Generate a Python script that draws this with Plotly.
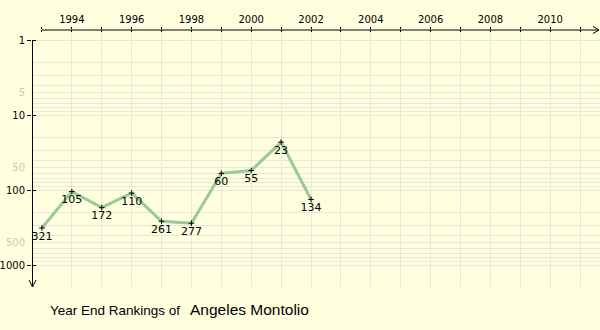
import plotly.graph_objects as go

years = [1993, 1994, 1995, 1996, 1997, 1998, 1999, 2000, 2001, 2002]
ranks = [321, 105, 172, 110, 261, 277, 60, 55, 23, 134]
rank_labels = [str(r) for r in ranks]

year_ticks = list(range(1993, 2012))
year_labels = [str(y) if y % 2 == 0 else "" for y in year_ticks]
grid_years = list(range(1994, 2012))

grid_vals = [m * 10 ** e for e in range(0, 3) for m in range(1, 10)] + [1000]
minor_labels = {5: "5", 50: "50", 500: "500"}
major_vals = [1, 10, 100, 1000]
major_labels = ["1", "10", "100", "1000"]

player = "Angeles Montolio"

W, H = 600, 330
L, R, T, B = 30, 0, 30, 43
PW, PH = W - L - R, H - T - B

BG = "#FFFFE0"
GRID = "#E6E6DA"
FONT = "DejaVu Sans"

def px(xp):
    return (xp - L) / PW

def py(yp):
    return (H - B - yp) / PH

# axis ranges derived from layout: 1993 at x=40, 30px/year; rank 1 at y=40, 75px/decade
x_range = [1993 - 10 / 30, 1993 + (PW - 10) / 30]
y_range = [(H - B - 40) / 75, (T - 40) / 75]

fig = go.Figure()
fig.add_trace(go.Scatter(
    x=years, y=ranks, mode="lines+markers+text",
    text=rank_labels, textposition="bottom center",
    textfont=dict(family=FONT, size=11, color="black"),
    line=dict(color="#99C899", width=3),
    marker=dict(symbol="cross-thin", size=4, color="black",
                line=dict(color="black", width=1)),
    hoverinfo="skip", showlegend=False, cliponaxis=False,
))
# helper traces so overlaying axes render
for xa, ya in [("x2", "y"), ("x3", "y"), ("x", "y2"), ("x", "y3")]:
    fig.add_trace(go.Scatter(x=years, y=ranks, xaxis=xa, yaxis=ya, mode="lines",
                             line=dict(width=0), opacity=0, hoverinfo="skip", showlegend=False))

common_x = dict(range=x_range, side="top", tickmode="array", showline=False, zeroline=False)
common_y = dict(type="log", range=y_range, side="left", tickmode="array",
                showline=False, zeroline=False)

fig.update_layout(
    width=W, height=H,
    margin=dict(l=L, r=R, t=T, b=B, pad=0),
    paper_bgcolor=BG, plot_bgcolor=BG,
    font=dict(family=FONT, size=10, color="black"),
    xaxis=dict(**common_x,
        tickvals=year_ticks, ticktext=year_labels,
        ticks="outside", ticklen=2, tickwidth=1, tickcolor="black",
        showgrid=False,
        tickfont=dict(family=FONT, size=10, color="black"),
    ),
    xaxis2=dict(**common_x, overlaying="x",
        tickvals=year_ticks, ticks="inside", ticklen=2, tickwidth=1,
        tickcolor="black", showticklabels=False, showgrid=False,
    ),
    xaxis3=dict(**common_x, overlaying="x",
        tickvals=grid_years, ticks="", showticklabels=False,
        showgrid=True, gridcolor=GRID, gridwidth=1,
    ),
    yaxis=dict(**common_y,
        tickvals=grid_vals,
        ticktext=[minor_labels.get(v, "") for v in grid_vals],
        ticks="outside", ticklen=4, tickcolor="rgba(0,0,0,0)",
        showgrid=True, gridcolor=GRID, gridwidth=1,
        tickfont=dict(family=FONT, size=10, color="#C8C8C0"),
    ),
    yaxis2=dict(**common_y, overlaying="y", anchor="x",
        tickvals=major_vals, ticktext=major_labels,
        ticks="outside", ticklen=4, tickwidth=1, tickcolor="black",
        showgrid=False,
        tickfont=dict(family=FONT, size=10, color="black"),
    ),
    yaxis3=dict(**common_y, overlaying="y", anchor="x",
        tickvals=major_vals, ticks="inside", ticklen=4, tickwidth=1, tickcolor="black",
        showticklabels=False, showgrid=False,
    ),
)

line = dict(color="black", width=1)
shapes = [
    # top (x) axis line with arrow
    dict(type="line", xref="paper", yref="paper", x0=px(40), y0=py(30), x1=px(599), y1=py(30), line=line),
    dict(type="line", xref="paper", yref="paper", x0=px(593), y0=py(26.5), x1=px(599), y1=py(30), line=line),
    dict(type="line", xref="paper", yref="paper", x0=px(593), y0=py(33.5), x1=px(599), y1=py(30), line=line),
    # left (y) axis line with arrow
    dict(type="line", xref="paper", yref="paper", x0=px(30.5), y0=py(40), x1=px(30.5), y1=py(287), line=line),
    dict(type="line", xref="paper", yref="paper", x0=px(27), y0=py(280), x1=px(30.5), y1=py(287), line=line),
    dict(type="line", xref="paper", yref="paper", x0=px(34), y0=py(280), x1=px(30.5), y1=py(287), line=line),
]
fig.update_layout(shapes=shapes)

fig.add_annotation(text="Year End Rankings of", xref="paper", yref="paper",
                   x=px(46), y=py(310), xanchor="left", yanchor="middle",
                   showarrow=False, font=dict(family="Liberation Sans", size=13.5, color="black"))
fig.add_annotation(text=player, xref="paper", yref="paper",
                   x=px(187), y=py(309), xanchor="left", yanchor="middle",
                   showarrow=False, font=dict(family="Liberation Sans", size=15.5, color="black"))

fig.write_html("out.html")
